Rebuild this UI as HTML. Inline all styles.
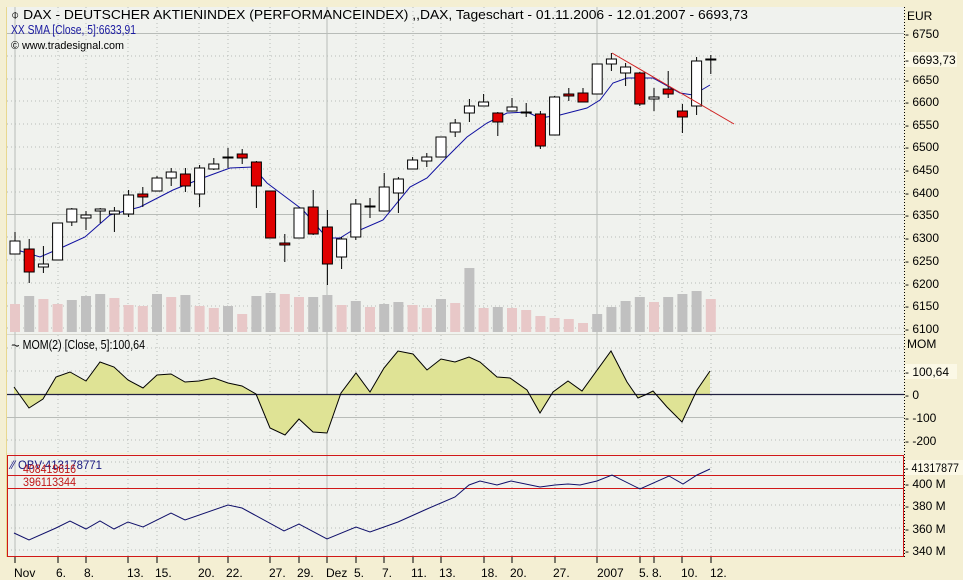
<!DOCTYPE html>
<html><head><meta charset="utf-8"><style>
html,body{margin:0;padding:0;background:#f4efd3;}
svg{display:block;font-family:"Liberation Sans",sans-serif;}
</style></head><body>
<svg width="963" height="580" viewBox="0 0 963 580" xmlns="http://www.w3.org/2000/svg">
<rect x="0" y="0" width="963" height="580" fill="#f4efd3"/>
<rect x="7" y="7" width="897" height="327" fill="#f0f2ee"/>
<rect x="7" y="335" width="897" height="118" fill="#f0f2ee"/>
<rect x="7" y="454" width="897" height="103" fill="#f0f2ee"/>
<line x1="6.5" y1="7" x2="6.5" y2="557" stroke="#e8d890" stroke-width="1"/>
<line x1="7" y1="334.5" x2="904" y2="334.5" stroke="#d8d8d0"/>
<g stroke="#b8bcb8" stroke-dasharray="1,3">
<line x1="58" y1="7" x2="58" y2="557"/><line x1="86" y1="7" x2="86" y2="557"/><line x1="128" y1="7" x2="128" y2="557"/><line x1="157" y1="7" x2="157" y2="557"/><line x1="199" y1="7" x2="199" y2="557"/><line x1="228" y1="7" x2="228" y2="557"/><line x1="270" y1="7" x2="270" y2="557"/><line x1="299" y1="7" x2="299" y2="557"/><line x1="356" y1="7" x2="356" y2="557"/><line x1="384" y1="7" x2="384" y2="557"/><line x1="413" y1="7" x2="413" y2="557"/><line x1="441" y1="7" x2="441" y2="557"/><line x1="484" y1="7" x2="484" y2="557"/><line x1="512" y1="7" x2="512" y2="557"/><line x1="555" y1="7" x2="555" y2="557"/><line x1="640" y1="7" x2="640" y2="557"/><line x1="654" y1="7" x2="654" y2="557"/><line x1="682" y1="7" x2="682" y2="557"/><line x1="711" y1="7" x2="711" y2="557"/>
</g>
<g stroke="#b8bcb8" stroke-dasharray="1,3">
<line x1="7" y1="56" x2="904" y2="56"/><line x1="7" y1="79" x2="904" y2="79"/><line x1="7" y1="101" x2="904" y2="101"/><line x1="7" y1="124" x2="904" y2="124"/><line x1="7" y1="147" x2="904" y2="147"/><line x1="7" y1="169" x2="904" y2="169"/><line x1="7" y1="192" x2="904" y2="192"/><line x1="7" y1="237" x2="904" y2="237"/><line x1="7" y1="260" x2="904" y2="260"/><line x1="7" y1="283" x2="904" y2="283"/><line x1="7" y1="306" x2="904" y2="306"/><line x1="7" y1="328" x2="904" y2="328"/>
<line x1="7" y1="371" x2="904" y2="371"/><line x1="7" y1="440" x2="904" y2="440"/><line x1="7" y1="348" x2="904" y2="348"/>
<line x1="7" y1="505" x2="904" y2="505"/><line x1="7" y1="528" x2="904" y2="528"/><line x1="7" y1="550" x2="904" y2="550"/><line x1="7" y1="462" x2="904" y2="462"/>
</g>
<g stroke="#b8bcb8" stroke-width="1">
<line x1="7" y1="33.5" x2="904" y2="33.5"/><line x1="7" y1="214.5" x2="904" y2="214.5"/><line x1="7" y1="417.5" x2="904" y2="417.5"/>
<line x1="15" y1="7" x2="15" y2="557"/><line x1="327" y1="7" x2="327" y2="557"/><line x1="597" y1="7" x2="597" y2="557"/>
</g>
<g>
<rect x="10" y="304" width="10" height="28" fill="#e8c8c8"/><rect x="24.2" y="296" width="10" height="36" fill="#c0c0c0"/><rect x="38.4" y="299" width="10" height="33" fill="#e8c8c8"/><rect x="52.6" y="304" width="10" height="28" fill="#e8c8c8"/><rect x="66.8" y="300" width="10" height="32" fill="#c0c0c0"/><rect x="81" y="296" width="10" height="36" fill="#c0c0c0"/><rect x="95.2" y="294" width="10" height="38" fill="#c0c0c0"/><rect x="109.4" y="298" width="10" height="34" fill="#e8c8c8"/><rect x="123.6" y="305" width="10" height="27" fill="#e8c8c8"/><rect x="137.8" y="306" width="10" height="26" fill="#e8c8c8"/><rect x="152" y="294" width="10" height="38" fill="#c0c0c0"/><rect x="166.2" y="297" width="10" height="35" fill="#e8c8c8"/><rect x="180.4" y="295" width="10" height="37" fill="#c0c0c0"/><rect x="194.6" y="306" width="10" height="26" fill="#e8c8c8"/><rect x="208.8" y="308" width="10" height="24" fill="#e8c8c8"/><rect x="223" y="306" width="10" height="26" fill="#c0c0c0"/><rect x="237.2" y="314" width="10" height="18" fill="#e8c8c8"/><rect x="251.4" y="296" width="10" height="36" fill="#c0c0c0"/><rect x="265.6" y="293" width="10" height="39" fill="#c0c0c0"/><rect x="279.8" y="294" width="10" height="38" fill="#e8c8c8"/><rect x="294" y="297" width="10" height="35" fill="#e8c8c8"/><rect x="308.2" y="297" width="10" height="35" fill="#c0c0c0"/><rect x="322.4" y="295" width="10" height="37" fill="#c0c0c0"/><rect x="336.6" y="305" width="10" height="27" fill="#e8c8c8"/><rect x="350.8" y="301" width="10" height="31" fill="#c0c0c0"/><rect x="365" y="307" width="10" height="25" fill="#e8c8c8"/><rect x="379.2" y="304" width="10" height="28" fill="#c0c0c0"/><rect x="393.4" y="302" width="10" height="30" fill="#c0c0c0"/><rect x="407.6" y="305" width="10" height="27" fill="#e8c8c8"/><rect x="421.8" y="308" width="10" height="24" fill="#e8c8c8"/><rect x="436" y="299" width="10" height="33" fill="#c0c0c0"/><rect x="450.2" y="303" width="10" height="29" fill="#e8c8c8"/><rect x="464.4" y="268" width="10" height="64" fill="#c0c0c0"/><rect x="478.6" y="308" width="10" height="24" fill="#e8c8c8"/><rect x="492.8" y="307" width="10" height="25" fill="#c0c0c0"/><rect x="507" y="308" width="10" height="24" fill="#e8c8c8"/><rect x="521.2" y="310" width="10" height="22" fill="#e8c8c8"/><rect x="535.4" y="316" width="10" height="16" fill="#e8c8c8"/><rect x="549.6" y="318" width="10" height="14" fill="#e8c8c8"/><rect x="563.8" y="319" width="10" height="13" fill="#e8c8c8"/><rect x="578" y="323" width="10" height="9" fill="#e8c8c8"/><rect x="592.2" y="314" width="10" height="18" fill="#c0c0c0"/><rect x="606.4" y="307" width="10" height="25" fill="#c0c0c0"/><rect x="620.6" y="301" width="10" height="31" fill="#c0c0c0"/><rect x="634.8" y="297" width="10" height="35" fill="#c0c0c0"/><rect x="649" y="302" width="10" height="30" fill="#e8c8c8"/><rect x="663.2" y="297" width="10" height="35" fill="#c0c0c0"/><rect x="677.4" y="294" width="10" height="38" fill="#c0c0c0"/><rect x="691.6" y="291" width="10" height="41" fill="#c0c0c0"/><rect x="705.8" y="299" width="10" height="33" fill="#e8c8c8"/>
</g>
<polyline fill="none" stroke="#1010a0" stroke-width="1" points="14,249 40,257 63,247 85,237 110,215 140,207 173,190 200,179 230,168 253,167 267,183 287,198 303,210 327,238 340,238 353,230 360,230 383,220 410,187 427,178 447,157 467,137 487,123 507,113 527,112 540,118 560,115 587,108 600,100 613,83 627,78 653,78 680,93 693,95 710,85"/>
<g stroke="#000" stroke-width="1">
<line x1="15" y1="232" x2="15" y2="254"/><rect x="10" y="241" width="10" height="13" fill="#fff"/>
<line x1="29.2" y1="239" x2="29.2" y2="283"/><rect x="24.2" y="249" width="10" height="23" fill="#e00000"/>
<line x1="43.4" y1="246" x2="43.4" y2="273"/><rect x="38.4" y="264" width="10" height="3" fill="#fff"/>
<line x1="57.6" y1="223" x2="57.6" y2="260"/><rect x="52.6" y="223" width="10" height="37" fill="#fff"/>
<line x1="71.8" y1="208" x2="71.8" y2="226"/><rect x="66.8" y="209" width="10" height="13" fill="#fff"/>
<line x1="86" y1="211" x2="86" y2="230"/><rect x="81" y="215" width="10" height="3" fill="#fff"/>
<line x1="100.2" y1="208" x2="100.2" y2="223"/><rect x="95.2" y="209" width="10" height="2" fill="#fff"/>
<line x1="114.4" y1="207" x2="114.4" y2="232"/><rect x="109.4" y="211" width="10" height="3" fill="#fff"/>
<line x1="128.6" y1="190" x2="128.6" y2="217"/><rect x="123.6" y="195" width="10" height="19" fill="#fff"/>
<line x1="142.8" y1="187" x2="142.8" y2="207"/><rect x="137.8" y="194" width="10" height="3" fill="#e00000"/>
<line x1="157" y1="176" x2="157" y2="191"/><rect x="152" y="178" width="10" height="13" fill="#fff"/>
<line x1="171.2" y1="168" x2="171.2" y2="186"/><rect x="166.2" y="172" width="10" height="6" fill="#fff"/>
<line x1="185.4" y1="168" x2="185.4" y2="192"/><rect x="180.4" y="174" width="10" height="12" fill="#e00000"/>
<line x1="199.6" y1="165" x2="199.6" y2="207"/><rect x="194.6" y="168" width="10" height="26" fill="#fff"/>
<line x1="213.8" y1="158" x2="213.8" y2="170"/><rect x="208.8" y="164" width="10" height="5" fill="#fff"/>
<line x1="228" y1="148" x2="228" y2="168"/><rect x="223" y="157" width="10" height="1" fill="#fff"/>
<line x1="242.2" y1="149" x2="242.2" y2="164"/><rect x="237.2" y="154" width="10" height="4" fill="#e00000"/>
<line x1="256.4" y1="161" x2="256.4" y2="208"/><rect x="251.4" y="162" width="10" height="24" fill="#e00000"/>
<line x1="270.6" y1="191" x2="270.6" y2="238"/><rect x="265.6" y="191" width="10" height="47" fill="#e00000"/>
<line x1="284.8" y1="234" x2="284.8" y2="262"/><rect x="279.8" y="243" width="10" height="2" fill="#e00000"/>
<line x1="299" y1="208" x2="299" y2="238"/><rect x="294" y="208" width="10" height="30" fill="#fff"/>
<line x1="313.2" y1="190" x2="313.2" y2="235"/><rect x="308.2" y="207" width="10" height="27" fill="#e00000"/>
<line x1="327.4" y1="210" x2="327.4" y2="285"/><rect x="322.4" y="227" width="10" height="37" fill="#e00000"/>
<line x1="341.6" y1="237" x2="341.6" y2="269"/><rect x="336.6" y="239" width="10" height="18" fill="#fff"/>
<line x1="355.8" y1="199" x2="355.8" y2="240"/><rect x="350.8" y="204" width="10" height="33" fill="#fff"/>
<line x1="370" y1="198" x2="370" y2="218"/><rect x="365" y="206" width="10" height="1" fill="#fff"/>
<line x1="384.2" y1="173" x2="384.2" y2="211"/><rect x="379.2" y="187" width="10" height="24" fill="#fff"/>
<line x1="398.4" y1="177" x2="398.4" y2="213"/><rect x="393.4" y="179" width="10" height="14" fill="#fff"/>
<line x1="412.6" y1="157" x2="412.6" y2="169"/><rect x="407.6" y="160" width="10" height="9" fill="#fff"/>
<line x1="426.8" y1="153" x2="426.8" y2="167"/><rect x="421.8" y="157" width="10" height="4" fill="#fff"/>
<line x1="441" y1="137" x2="441" y2="157"/><rect x="436" y="137" width="10" height="20" fill="#fff"/>
<line x1="455.2" y1="119" x2="455.2" y2="137"/><rect x="450.2" y="123" width="10" height="9" fill="#fff"/>
<line x1="469.4" y1="99" x2="469.4" y2="122"/><rect x="464.4" y="106" width="10" height="7" fill="#fff"/>
<line x1="483.6" y1="94" x2="483.6" y2="106"/><rect x="478.6" y="102" width="10" height="4" fill="#fff"/>
<line x1="497.8" y1="112" x2="497.8" y2="136"/><rect x="492.8" y="113" width="10" height="9" fill="#e00000"/>
<line x1="512" y1="98" x2="512" y2="111"/><rect x="507" y="107" width="10" height="4" fill="#fff"/>
<line x1="526.2" y1="103" x2="526.2" y2="117"/><rect x="521.2" y="112" width="10" height="1" fill="#fff"/>
<line x1="540.4" y1="111" x2="540.4" y2="149"/><rect x="535.4" y="114" width="10" height="32" fill="#e00000"/>
<line x1="554.6" y1="96" x2="554.6" y2="135"/><rect x="549.6" y="97" width="10" height="38" fill="#fff"/>
<line x1="568.8" y1="88" x2="568.8" y2="101"/><rect x="563.8" y="94" width="10" height="2" fill="#e00000"/>
<line x1="583" y1="88" x2="583" y2="102"/><rect x="578" y="93" width="10" height="9" fill="#e00000"/>
<line x1="597.2" y1="64" x2="597.2" y2="94"/><rect x="592.2" y="64" width="10" height="30" fill="#fff"/>
<line x1="611.4" y1="53" x2="611.4" y2="71"/><rect x="606.4" y="59" width="10" height="5" fill="#fff"/>
<line x1="625.6" y1="63" x2="625.6" y2="86"/><rect x="620.6" y="67" width="10" height="6" fill="#fff"/>
<line x1="639.8" y1="72" x2="639.8" y2="106"/><rect x="634.8" y="73" width="10" height="31" fill="#e00000"/>
<line x1="654" y1="88" x2="654" y2="111"/><rect x="649" y="97" width="10" height="2" fill="#fff"/>
<line x1="668.2" y1="71" x2="668.2" y2="98"/><rect x="663.2" y="89" width="10" height="5" fill="#e00000"/>
<line x1="682.4" y1="104" x2="682.4" y2="133"/><rect x="677.4" y="111" width="10" height="6" fill="#e00000"/>
<line x1="696.6" y1="57" x2="696.6" y2="115"/><rect x="691.6" y="61" width="10" height="45" fill="#fff"/>
<line x1="710.8" y1="55" x2="710.8" y2="74"/><rect x="705.8" y="59" width="10" height="1" fill="#fff"/>
</g>
<line x1="612" y1="53" x2="734" y2="124" stroke="#d02020" stroke-width="1"/>
<g font-size="12.5">
<text x="11" y="19" fill="#000" textLength="737" lengthAdjust="spacingAndGlyphs">⌽ DAX  - DEUTSCHER AKTIENINDEX (PERFORMANCEINDEX) ,,DAX, Tageschart - 01.11.2006 - 12.01.2007 - 6693,73</text>
<text x="11" y="34" fill="#1a1aa0" textLength="125" lengthAdjust="spacingAndGlyphs">XX SMA [Close, 5]:6633,91</text>
<text x="11" y="49" fill="#000" font-size="11" textLength="113" lengthAdjust="spacingAndGlyphs">© www.tradesignal.com</text>
<text x="11" y="349" fill="#000" textLength="134" lengthAdjust="spacingAndGlyphs">⏦ MOM(2) [Close, 5]:100,64</text>
</g>
<polygon fill="#dfe395" stroke="none" points="14,394 14,387 29,408 43,399 56,377 70,372 86,381 100,362 114,367 128,380 143,388 157,375 171,374 185,382 199,381 214,378 228,383 242,386 256,394 270,428 285,435 299,419 313,432 327,433 341,393 356,373 370,392 384,368 398,351 413,354 427,370 441,359 455,362 469,357 480,362 497,377 510,378 527,390 540,413 553,392 568,381 582,391 611,351 627,382 638,398 645,395 653,391 667,407 682,422 697,390 710,371 710,394"/>
<line x1="7" y1="394.5" x2="904" y2="394.5" stroke="#202040" stroke-width="1.2"/>
<polyline fill="none" stroke="#000" stroke-width="1" points="14,387 29,408 43,399 56,377 70,372 86,381 100,362 114,367 128,380 143,388 157,375 171,374 185,382 199,381 214,378 228,383 242,386 256,394 270,428 285,435 299,419 313,432 327,433 341,393 356,373 370,392 384,368 398,351 413,354 427,370 441,359 455,362 469,357 480,362 497,377 510,378 527,390 540,413 553,392 568,381 582,391 611,351 627,382 638,398 645,395 653,391 667,407 682,422 697,390 710,371"/>
<rect x="7.5" y="455.5" width="896" height="101" fill="none" stroke="#d01818" stroke-width="1"/>
<line x1="7" y1="475.5" x2="904" y2="475.5" stroke="#d01818"/>
<line x1="7" y1="488.5" x2="904" y2="488.5" stroke="#d01818"/>
<polyline fill="none" stroke="#10106a" stroke-width="1" points="14,533 29,540 56,528 70,521 86,529 100,521 114,529 128,522 143,527 171,513 185,520 228,505 242,508 284,531 299,524 327,539 356,527 370,532 398,522 427,509 455,497 469,485 480,481 497,485 511,481 540,487 555,485 568,484 580,485 597,481 612,475 640,489 669,476 683,484 697,475 710,469"/>
<g font-size="12">
<text x="11" y="469" fill="#1a1a80" textLength="91" lengthAdjust="spacingAndGlyphs">⁄⁄ OBV:413178771</text>
<text x="23" y="473" fill="#c01818" textLength="53" lengthAdjust="spacingAndGlyphs">408419616</text>
<text x="23" y="486" fill="#c01818" textLength="53" lengthAdjust="spacingAndGlyphs">396113344</text>
</g>
<g stroke="#000">
<line x1="15" y1="557" x2="15" y2="563"/><line x1="58" y1="557" x2="58" y2="563"/><line x1="86" y1="557" x2="86" y2="563"/><line x1="128" y1="557" x2="128" y2="563"/><line x1="157" y1="557" x2="157" y2="563"/><line x1="199" y1="557" x2="199" y2="563"/><line x1="228" y1="557" x2="228" y2="563"/><line x1="270" y1="557" x2="270" y2="563"/><line x1="299" y1="557" x2="299" y2="563"/><line x1="327" y1="557" x2="327" y2="563"/><line x1="356" y1="557" x2="356" y2="563"/><line x1="384" y1="557" x2="384" y2="563"/><line x1="413" y1="557" x2="413" y2="563"/><line x1="441" y1="557" x2="441" y2="563"/><line x1="484" y1="557" x2="484" y2="563"/><line x1="512" y1="557" x2="512" y2="563"/><line x1="555" y1="557" x2="555" y2="563"/><line x1="597" y1="557" x2="597" y2="563"/><line x1="640" y1="557" x2="640" y2="563"/><line x1="654" y1="557" x2="654" y2="563"/><line x1="682" y1="557" x2="682" y2="563"/><line x1="711" y1="557" x2="711" y2="563"/>
</g>
<g font-size="12" fill="#000">
<text x="14" y="577">Nov</text><text x="56" y="577">6.</text><text x="84" y="577">8.</text><text x="127" y="577">13.</text><text x="155" y="577">15.</text><text x="198" y="577">20.</text><text x="226" y="577">22.</text><text x="269" y="577">27.</text><text x="297" y="577">29.</text><text x="326" y="577">Dez</text><text x="354" y="577">5.</text><text x="382" y="577">7.</text><text x="411" y="577">11.</text><text x="439" y="577">13.</text><text x="481" y="577">18.</text><text x="510" y="577">20.</text><text x="553" y="577">27.</text><text x="597" y="577">2007</text><text x="639" y="577">5.</text><text x="652" y="577">8.</text><text x="681" y="577">10.</text><text x="710" y="577">12.</text>
</g>
<line x1="904.5" y1="7" x2="904.5" y2="557" stroke="#000" stroke-dasharray="1,2"/>
<rect x="905" y="52" width="52" height="15" fill="#fbf8e6"/>
<rect x="905" y="364" width="52" height="15" fill="#fbf8e6"/>
<rect x="905" y="460" width="58" height="15" fill="#fbf8e6"/>
<g font-size="12" fill="#000">
<text x="907" y="20">EUR</text>
<text x="905" y="38">- 6750</text><text x="905" y="64">- 6693,73</text><text x="905" y="84">- 6650</text><text x="905" y="106">- 6600</text><text x="905" y="129">- 6550</text><text x="905" y="151">- 6500</text><text x="905" y="174">- 6450</text><text x="905" y="197">- 6400</text><text x="905" y="219">- 6350</text><text x="905" y="242">- 6300</text><text x="905" y="265">- 6250</text><text x="905" y="288">- 6200</text><text x="905" y="310">- 6150</text><text x="905" y="333">- 6100</text>
<text x="907" y="348">MOM</text>
<text x="905" y="376">- 100,64</text><text x="905" y="399">- 0</text><text x="905" y="422">- -100</text><text x="905" y="445">- -200</text>
<text x="905" y="472" textLength="54" lengthAdjust="spacingAndGlyphs">- 41317877</text><text x="905" y="488">- 400 M</text><text x="905" y="510">- 380 M</text><text x="905" y="533">- 360 M</text><text x="905" y="555">- 340 M</text>
</g>
</svg>
</body></html>
